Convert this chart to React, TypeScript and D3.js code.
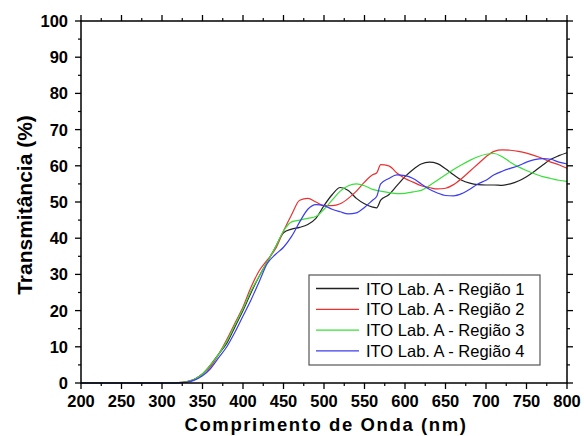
import React from "react";
import * as d3 from "d3";

const wavelengths = [200, 250, 300, 320, 330, 340, 350, 360, 370, 380, 390, 400, 410, 420, 430, 440, 450, 460, 470, 480, 490, 500, 510, 520, 530, 540, 550, 560, 565, 570, 580, 590, 600, 610, 620, 630, 640, 650, 660, 670, 680, 690, 700, 710, 720, 730, 740, 750, 760, 770, 780, 790, 800];

const regiao1 = [0, 0, 0, 0.1, 0.3, 1, 2.5, 5, 8, 11, 15.5, 20, 25, 29.5, 33.5, 37.5, 41.5, 42.5, 43, 43.8, 45.5, 49, 52, 54, 53.2, 51, 49.5, 48.6, 48.4, 50.5, 52, 54.5, 57, 59, 60.5, 61, 60.6, 59.2, 57.5, 56, 55.2, 54.8, 54.7, 54.7, 54.6, 55, 55.8, 57, 58.5, 60.2, 61.8, 62.8, 63.6];
const regiao2 = [0, 0, 0, 0.1, 0.4, 1, 2.5, 4.5, 8, 12, 16.5, 21, 26.5, 31, 34, 37, 42, 46.5, 50.5, 51, 50, 49, 49, 49.5, 51, 53, 55.5, 57.5, 58, 60.3, 60, 58, 56.5, 55.5, 54.5, 54, 53.6, 53.8, 54.8, 56.5, 58.5, 60.5, 62.5, 64, 64.4, 64.3, 64, 63.5, 62.8, 62, 61, 60.3, 59.3];
const regiao3 = [0, 0, 0, 0.1, 0.3, 1, 2.5, 5, 8, 11.5, 16, 20.5, 25.5, 29.5, 33.5, 37.5, 42, 44.5, 45, 45.5, 46, 48, 50.5, 53, 54.5, 55, 54.5, 53.5, 53.2, 53, 52.6, 52.3, 52.4, 52.8, 53.2, 54.5, 56, 57.5, 59, 60.3, 61.5, 62.5, 63.2, 63.4, 62.5, 61, 59.7, 58.7, 57.8, 57, 56.5, 56, 55.7];
const regiao4 = [0, 0, 0, 0.05, 0.2, 0.8, 2, 4, 7, 10, 14, 18.5, 23, 28, 33, 35.5, 37.5, 40.5, 44.5, 48, 49.3, 49, 48, 47.3, 46.7, 47, 48.5, 50.5, 51.5, 55, 56.5, 57.5, 57.3, 56.5, 55, 53.5, 52.5, 51.8, 51.7, 52.3, 53.5, 55, 56, 57.5, 58.5, 59.3, 60, 61, 61.7, 62, 61.8, 61, 60.5];

const seriesNames = ["ITO Lab. A - Região 1", "ITO Lab. A - Região 2", "ITO Lab. A - Região 3", "ITO Lab. A - Região 4"];
const seriesValues = [regiao1, regiao2, regiao3, regiao4];
const seriesColors = ["#222222", "#ec3030", "#38e038", "#3c3cf0"];

const xTicks = [200, 250, 300, 350, 400, 450, 500, 550, 600, 650, 700, 750, 800];
const yTicks = [0, 10, 20, 30, 40, 50, 60, 70, 80, 90, 100];

const xLabel = "Comprimento de Onda (nm)";
const yLabel = "Transmitância (%)";

const W = 584;
const H = 436;
const L = 81;
const R = 567;
const T = 21;
const B = 383;
const FONT = "'Liberation Sans', Arial, Helvetica, sans-serif";

export default function App() {
  const x = d3.scaleLinear().domain([200, 800]).range([L, R]);
  const y = d3.scaleLinear().domain([0, 100]).range([B, T]);
  const line = d3
    .line<[number, number]>()
    .x((d) => x(d[0]))
    .y((d) => y(d[1]))
    .curve(d3.curveMonotoneX);

  const xMinor = d3.range(200, 801, 25).filter((v) => v % 50 !== 0);
  const yMinor = d3.range(0, 101, 5).filter((v) => v % 10 !== 0);
  const major = 6;
  const minor = 3;

  const legX = 309;
  const legY = 275;
  const legW = 231;
  const legH = 90;
  const rowH = 20.8;

  return (
    <svg width={W} height={H} style={{ position: "absolute", left: 0, top: 0, background: "#fff" }} fontFamily={FONT}>
      <rect x={0} y={0} width={W} height={H} fill="#fff" />
      <g>
        {seriesValues.map((vals, i) => (
          <path
            key={i}
            d={line(wavelengths.map((w, j) => [w, vals[j]] as [number, number])) || ""}
            fill="none"
            stroke={seriesColors[i]}
            strokeWidth={1.2}
          />
        ))}
      </g>
      <rect x={L} y={T} width={R - L} height={B - T} fill="none" stroke="#000" strokeWidth={1.5} />
      {xTicks.map((v) => (
        <g key={"xt" + v}>
          <line x1={x(v)} x2={x(v)} y1={B} y2={B + major} stroke="#000" strokeWidth={1.3} />
          <line x1={x(v)} x2={x(v)} y1={T} y2={T - major} stroke="#000" strokeWidth={1.3} />
          <text x={x(v)} y={407} textAnchor="middle" fontSize={16.5} fontWeight="bold">
            {v}
          </text>
        </g>
      ))}
      {xMinor.map((v) => (
        <g key={"xm" + v}>
          <line x1={x(v)} x2={x(v)} y1={B} y2={B + minor} stroke="#000" strokeWidth={1.2} />
          <line x1={x(v)} x2={x(v)} y1={T} y2={T - minor} stroke="#000" strokeWidth={1.2} />
        </g>
      ))}
      {yTicks.map((v) => (
        <g key={"yt" + v}>
          <line x1={L} x2={L - major} y1={y(v)} y2={y(v)} stroke="#000" strokeWidth={1.3} />
          <line x1={R} x2={R + major} y1={y(v)} y2={y(v)} stroke="#000" strokeWidth={1.3} />
          <text x={68} y={y(v) + 6} textAnchor="end" fontSize={16.5} fontWeight="bold">
            {v}
          </text>
        </g>
      ))}
      {yMinor.map((v) => (
        <g key={"ym" + v}>
          <line x1={L} x2={L - minor} y1={y(v)} y2={y(v)} stroke="#000" strokeWidth={1.2} />
          <line x1={R} x2={R + minor} y1={y(v)} y2={y(v)} stroke="#000" strokeWidth={1.2} />
        </g>
      ))}
      <text x={(L + R) / 2 + 2} y={431} textAnchor="middle" fontSize={18.5} fontWeight="bold" letterSpacing={1.6}>
        {xLabel}
      </text>
      <text
        transform={`translate(32, ${205}) rotate(-90)`}
        textAnchor="middle"
        fontSize={21}
        fontWeight="bold"
      >
        {yLabel}
      </text>
      <g>
        <rect x={legX} y={legY} width={legW} height={legH} fill="#fff" stroke="#555" strokeWidth={1.2} />
        {seriesNames.map((name, i) => {
          const cy = legY + 13.5 + i * rowH;
          return (
            <g key={name}>
              <line x1={legX + 7} x2={legX + 50} y1={cy} y2={cy} stroke={seriesColors[i]} strokeWidth={1.3} />
              <text x={legX + 57} y={cy + 6} fontSize={16.5}>
                {name}
              </text>
            </g>
          );
        })}
      </g>
    </svg>
  );
}
